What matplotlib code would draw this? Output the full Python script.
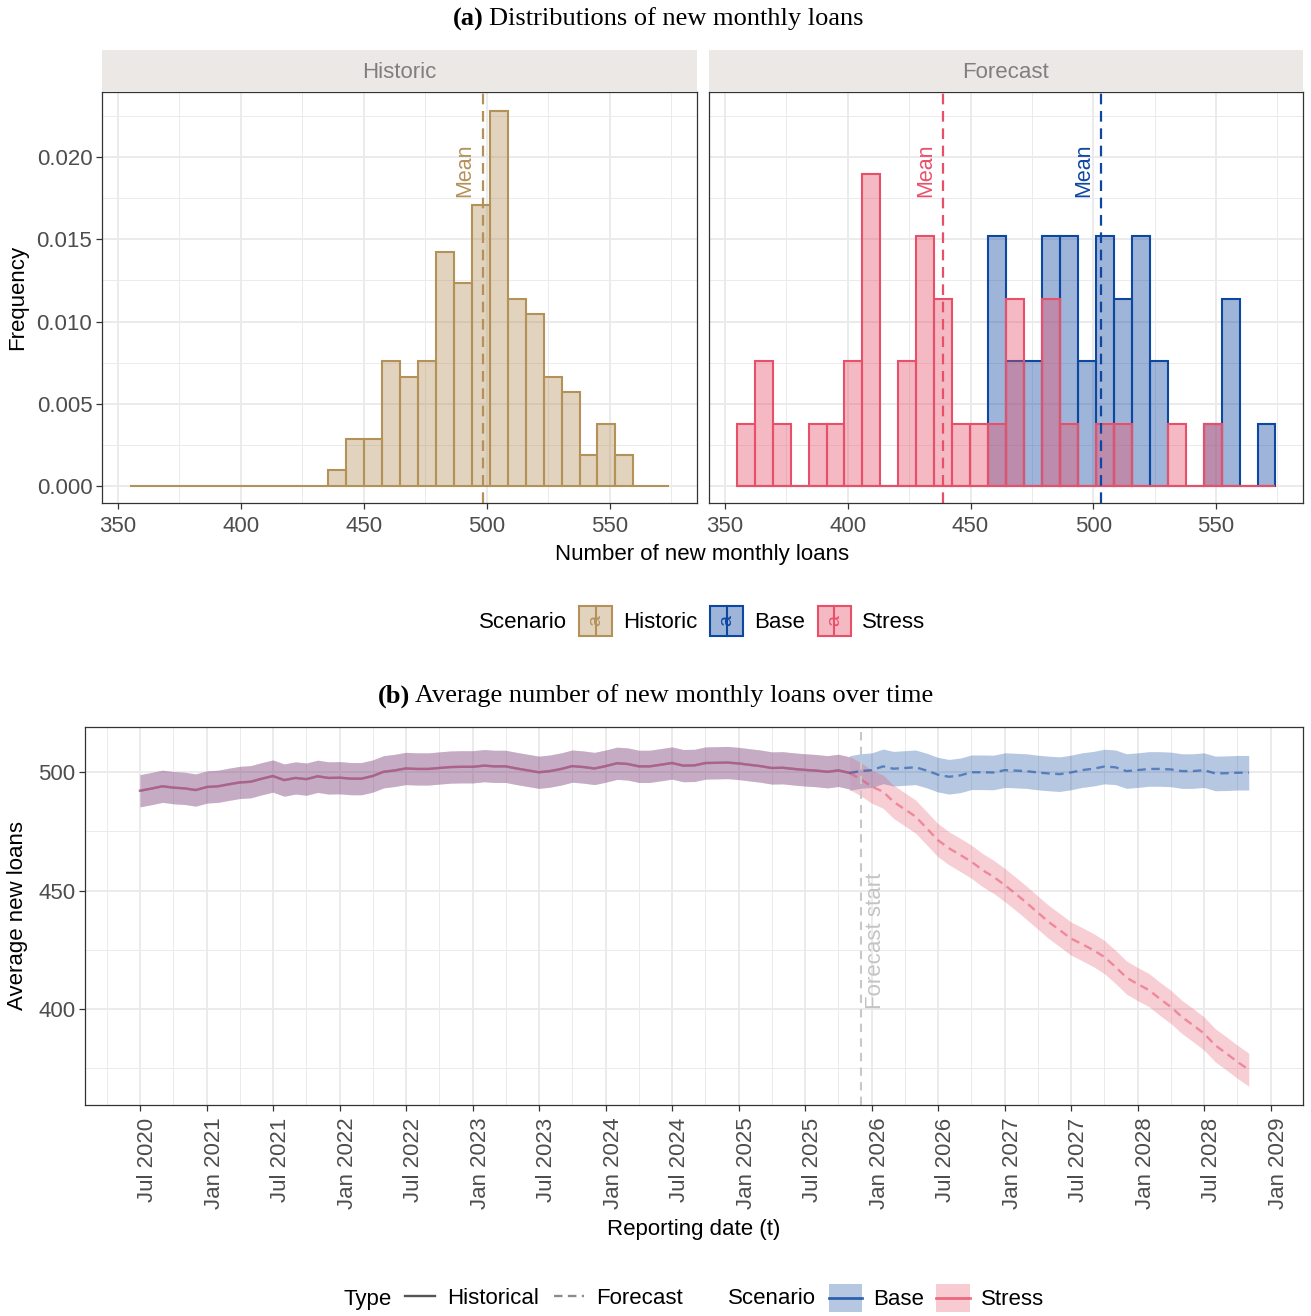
import datetime as dt
import numpy as np
import pandas as pd
import matplotlib
matplotlib.use("Agg")
import matplotlib.pyplot as plt
import matplotlib.dates as mdates
import matplotlib.transforms as mtransforms
from matplotlib.ticker import MultipleLocator, FormatStrFormatter
from matplotlib.patches import Patch, Rectangle
from matplotlib.lines import Line2D
from matplotlib.text import Text
from matplotlib.legend_handler import HandlerBase
from matplotlib.colors import to_rgba

plt.rcParams['font.family'] = ['Liberation Sans', 'DejaVu Sans']

# ---- data: histograms (counts per bin, 30 bins) ----
bin_lo, bin_hi, n_bins = 354.8, 574.2, 30
hist_counts = [0] * 11 + [1, 3, 3, 8, 7, 8, 15, 13, 18, 24, 12, 11, 7, 6, 2, 4, 2] + [0, 0]
base_counts = [0] * 14 + [4, 2, 2, 4, 4, 2, 4, 3, 4, 2, 0, 0, 1, 3, 0, 1]
stress_counts = [1, 2, 1, 0, 1, 1, 2, 5, 0, 2, 4, 3, 1, 1, 1, 3, 0, 3, 1, 0,
                 1, 1, 0, 0, 1, 0, 1, 0, 0, 0]
hist_mean, base_mean, stress_mean = 498.2, 503.2, 438.7

# ---- data: average loans over time ----
hist_start = '2020-07-01'
hist_vals = [492.1, 493.0, 494.0, 493.4, 493.1, 492.4,
             493.7, 494.0, 494.8, 495.6, 495.9, 497.2,
             498.3, 496.6, 497.5, 497.0, 498.2, 497.5,
             497.6, 497.2, 497.2, 498.3, 500.1, 500.7,
             501.5, 501.3, 501.3, 501.7, 502.1, 502.2,
             502.2, 502.7, 502.4, 502.4, 501.5, 500.7,
             499.9, 500.4, 501.3, 502.5, 502.1, 501.5,
             502.5, 503.7, 503.4, 502.4, 502.4, 503.1,
             503.8, 502.7, 502.8, 503.8, 503.9, 504.0,
             503.6, 503.0, 502.5, 501.7, 501.8, 501.3,
             500.9, 500.6, 500.1, 500.7, 499.6]
fc_start = '2025-12-01'
base_vals = [500.4, 500.8, 502.4, 501.4, 501.7, 502.0, 500.6, 498.9, 498.0, 498.6,
             499.9, 499.9, 499.8, 500.8, 500.6, 500.4, 499.8, 499.4, 499.1, 499.8,
             500.8, 501.4, 502.3, 502.0, 500.4, 500.8, 501.3, 501.3, 501.1, 500.4,
             500.4, 500.8, 499.4, 499.5, 499.7, 499.7]
stress_vals = [497.0, 493.8, 491.7, 487.5, 484.3, 481.2, 476.2, 471.3, 467.8, 465.0,
               462.2, 458.6, 455.8, 452.3, 448.5, 444.9, 440.8, 436.8, 433.3, 429.8,
               427.4, 424.9, 422.0, 417.8, 413.3, 410.5, 408.0, 404.4, 400.9, 396.7,
               393.2, 389.7, 384.7, 381.2, 377.7, 374.4]
hist_hw, base_hw, stress_hw = 6.8, 7.3, 7.0

c_hist, c_base, c_stress = '#B5915A', '#0D47A1', '#E8506A'

W, H = 1311, 1316
fig = plt.figure(figsize=(W / 100, H / 100), dpi=100)


def box(x0, y0, x1, y1):
    return [x0 / W, 1 - y1 / H, (x1 - x0) / W, (y1 - y0) / H]


def fy(y):
    return 1 - y / H


def style(ax):
    for s in ax.spines.values():
        s.set_color('#333333')
        s.set_linewidth(0.9)
    ax.tick_params(which='major', length=4, width=0.9, color='#333333',
                   labelsize=16, labelcolor='#4D4D4D', pad=3)
    ax.tick_params(which='minor', length=0)
    ax.grid(which='major', color='#EBEBEB', lw=1.4)
    ax.grid(which='minor', color='#EBEBEB', lw=0.7)
    ax.set_axisbelow(True)


class MeanKey(HandlerBase):
    def create_artists(self, legend, orig, xd, yd, width, height, fontsize, trans):
        ec = orig.get_edgecolor()
        r = Rectangle((-xd, -yd), width, height, facecolor=to_rgba(ec, 0.4),
                      edgecolor=ec, lw=1.5, transform=trans)
        ln = Line2D([-xd + width / 2] * 2, [-yd, -yd + height], color=ec, lw=1.5,
                    transform=trans)
        t = Text(-xd + width / 2, -yd + height / 2, 'a', rotation=90, ha='center',
                 va='center', color=ec, fontsize=14, transform=trans)
        return [r, ln, t]


class RibbonKey(HandlerBase):
    def create_artists(self, legend, orig, xd, yd, width, height, fontsize, trans):
        ec = orig.get_edgecolor()
        r = Rectangle((-xd, -yd), width, height, facecolor=to_rgba(ec, 0.3),
                      edgecolor='none', transform=trans)
        ln = Line2D([-xd, -xd + width], [-yd + height / 2] * 2, color=ec, lw=2,
                    alpha=0.8, transform=trans)
        return [r, ln]


# ---- (a) histograms ----
edges = np.linspace(bin_lo, bin_hi, n_bins + 1)
bw = edges[1] - edges[0]


def draw_hist(ax, counts, color):
    counts = np.array(counts, dtype=float)
    dens = counts / (counts.sum() * bw)
    ax.bar(edges[:-1], dens, width=bw, align='edge', facecolor=to_rgba(color, 0.4),
           edgecolor=color, lw=1.5)


def mean_line(ax, m, color):
    ax.axvline(m, color=color, lw=1.6, dashes=(4.8, 3.0))
    ax.annotate('Mean', xy=(m, 0.01757), xytext=(-7, 0), textcoords='offset pixels',
                rotation=90, ha='right', va='bottom', color=color, fontsize=15.5)


ax1 = fig.add_axes(box(102, 92, 697, 503))
ax2 = fig.add_axes(box(709, 92, 1303, 503))
for ax in (ax1, ax2):
    style(ax)
    ax.set_xlim(343.5, 585.4)
    ax.set_ylim(-0.00103, 0.02395)
    ax.xaxis.set_major_locator(MultipleLocator(50))
    ax.xaxis.set_minor_locator(MultipleLocator(25))
    ax.yaxis.set_major_locator(MultipleLocator(0.005))
    ax.yaxis.set_minor_locator(MultipleLocator(0.0025))
    ax.yaxis.set_major_formatter(FormatStrFormatter('%.3f'))
    ax.tick_params(axis='x', pad=5)

draw_hist(ax1, hist_counts, c_hist)
mean_line(ax1, hist_mean, c_hist)
draw_hist(ax2, base_counts, c_base)
draw_hist(ax2, stress_counts, c_stress)
mean_line(ax2, stress_mean, c_stress)
mean_line(ax2, base_mean, c_base)
ax2.tick_params(axis='y', which='both', left=False, labelleft=False)

for b, lab in ((box(102, 50, 697, 91), 'Historic'), (box(709, 50, 1303, 91), 'Forecast')):
    s = fig.add_axes(b)
    s.set_facecolor('#EBE8E6')
    s.set_xticks([])
    s.set_yticks([])
    for sp in s.spines.values():
        sp.set_visible(False)
    s.text(0.5, 0.45, lab, ha='center', va='center', fontsize=16, color='#7F7F7F',
           transform=s.transAxes)

fig.text(484 / W, fy(19), '(a)', ha='right', va='center', fontsize=19,
         family='Liberation Serif', weight='bold')
fig.text(489 / W, fy(19), 'Distributions of new monthly loans', ha='left', va='center',
         fontsize=19, family='Liberation Serif')
fig.text(702 / W, fy(554), 'Number of new monthly loans', ha='center', va='center', fontsize=16)
fig.text(18 / W, fy(297), 'Frequency', ha='center', va='center', rotation=90, fontsize=16)

fig.text(479 / W, fy(622), 'Scenario', ha='left', va='center', fontsize=16)
top_handles = [Patch(edgecolor=c_hist), Patch(edgecolor=c_base), Patch(edgecolor=c_stress)]
fig.legend(top_handles, ['Historic', 'Base', 'Stress'], loc='center left',
           bbox_to_anchor=(579 / W, fy(621)), ncol=3, frameon=False, fontsize=16,
           handlelength=1.5, handleheight=1.65, handletextpad=0.5, columnspacing=0.55,
           borderpad=0, borderaxespad=0, handler_map={Patch: MeanKey()})

# ---- (b) time series ----
hist_dates = pd.date_range(hist_start, periods=len(hist_vals), freq='MS')
fc_dates = pd.date_range(fc_start, periods=len(base_vals), freq='MS')
hist_y = np.array(hist_vals)
# join forecasts to last historical month
fx = np.concatenate([hist_dates[-1:].to_numpy(), fc_dates.to_numpy()])
base_y = np.concatenate([hist_y[-1:], base_vals])
stress_y = np.concatenate([hist_y[-1:], stress_vals])

ax3 = fig.add_axes(box(85, 727, 1303, 1105))
style(ax3)
for col, a_rib in ((c_base, 0.28), (c_stress, 0.26)):
    ax3.fill_between(hist_dates, hist_y - hist_hw, hist_y + hist_hw, color=col,
                     alpha=a_rib, lw=0)
ax3.fill_between(fx, base_y - base_hw, base_y + base_hw, color=c_base, alpha=0.3, lw=0)
ax3.fill_between(fx, stress_y - stress_hw, stress_y + stress_hw, color=c_stress,
                 alpha=0.28, lw=0)
ax3.plot(hist_dates, hist_y, color=c_base, alpha=0.5, lw=1.7)
ax3.plot(hist_dates, hist_y, color=c_stress, alpha=0.55, lw=1.7)
ax3.plot(fx, base_y, color=c_base, alpha=0.55, lw=1.7, dashes=(3.6, 2.3))
ax3.plot(fx, stress_y, color=c_stress, alpha=0.55, lw=1.7, dashes=(3.6, 2.3))

fc_line = pd.Timestamp(fc_start)
ax3.axvline(fc_line, color='#C8C8C8', lw=1.5, dashes=(4, 3))
ax3.annotate('Forecast start', xy=(fc_line, 400), xytext=(4, 0), textcoords='offset pixels',
             rotation=90, ha='left', va='bottom', color='#C4C4C4', fontsize=16)

ax3.set_xlim(dt.datetime(2020, 2, 1), dt.datetime(2029, 3, 30))
ax3.set_ylim(359.5, 519)
ax3.yaxis.set_major_locator(MultipleLocator(50))
ax3.yaxis.set_minor_locator(MultipleLocator(25))
ax3.xaxis.set_major_locator(mdates.MonthLocator(bymonth=[1, 7]))
ax3.xaxis.set_minor_locator(mdates.MonthLocator(bymonth=[4, 10]))
ax3.xaxis.set_major_formatter(mdates.DateFormatter('%b %Y'))
ax3.tick_params(axis='x', pad=5)
shift = mtransforms.ScaledTranslation(8 / 100, 0, fig.dpi_scale_trans)
for lbl in ax3.get_xticklabels():
    lbl.set_rotation(90)
    lbl.set_ha('center')
    lbl.set_va('top')
    lbl.set_transform(lbl.get_transform() + shift)

fig.text(410 / W, fy(696), '(b)', ha='right', va='center', fontsize=19,
         family='Liberation Serif', weight='bold')
fig.text(415 / W, fy(696), 'Average number of new monthly loans over time', ha='left',
         va='center', fontsize=19, family='Liberation Serif')
fig.text(694 / W, fy(1230), 'Reporting date (t)', ha='center', va='center', fontsize=16)
fig.text(18 / W, fy(916), 'Average new loans', ha='center', va='center', rotation=90,
         fontsize=16)

fig.text(343 / W, fy(1299), 'Type', ha='left', va='center', fontsize=16)
type_handles = [Line2D([], [], color='#555555', lw=1.7),
                Line2D([], [], color='#8C8C8C', lw=1.7, dashes=(3.6, 2.3))]
fig.legend(type_handles, ['Historical', 'Forecast'], loc='center left',
           bbox_to_anchor=(405 / W, fy(1298)), ncol=2, frameon=False, fontsize=16,
           handlelength=1.35, handletextpad=0.55, columnspacing=0.65, borderpad=0,
           borderaxespad=0)
fig.text(728 / W, fy(1299), 'Scenario', ha='left', va='center', fontsize=16)
fig.legend([Patch(edgecolor=c_base), Patch(edgecolor=c_stress)], ['Base', 'Stress'],
           loc='center left', bbox_to_anchor=(829 / W, fy(1298)), ncol=2, frameon=False,
           fontsize=16, handlelength=1.5, handleheight=1.6, handletextpad=0.5,
           columnspacing=0.54, borderpad=0, borderaxespad=0,
           handler_map={Patch: RibbonKey()})

fig.savefig('out.png', dpi=100)
